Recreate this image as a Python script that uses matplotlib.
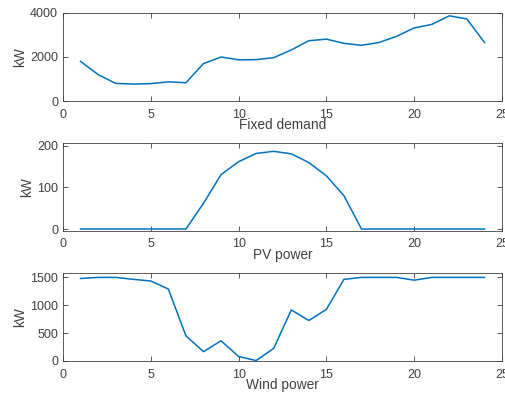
import matplotlib.pyplot as plt
import numpy as np

hours = np.arange(1, 25)

fixed_demand = [1800, 1200, 800, 770, 790, 870, 830, 1700, 2000, 1870,
                1880, 1970, 2320, 2740, 2810, 2620, 2530, 2660, 2940, 3320,
                3480, 3870, 3730, 2660]

pv_power = [0, 0, 0, 0, 0, 0, 0, 62, 131, 162, 182, 187, 181, 160, 128, 80,
            0, 0, 0, 0, 0, 0, 0, 0]

wind_power = [1480, 1500, 1500, 1465, 1435, 1290, 450, 165, 360, 78, 5, 225,
              915, 725, 925, 1465, 1500, 1500, 1500, 1450, 1500, 1500, 1500, 1500]

titles = ['Fixed demand', 'PV power', 'Wind power']
ylims = [(0, 4000), (-4, 206), (-3, 1585)]
yticks = [[0, 2000, 4000], [0, 100, 200], [0, 500, 1000, 1500]]

plt.rcParams['font.family'] = ['Liberation Sans', 'DejaVu Sans']
plt.rcParams['font.size'] = 9

line_col = '#0072BD'
txt_col = '#404040'

fig = plt.figure(figsize=(5.06, 3.93), dpi=100)
positions = [[0.1245, 0.743, 0.8676, 0.224],
             [0.1245, 0.413, 0.8676, 0.222],
             [0.1245, 0.0814, 0.8676, 0.2248]]

for pos, data, title, yl, yt in zip(positions, [fixed_demand, pv_power, wind_power],
                                     titles, ylims, yticks):
    ax = fig.add_axes(pos)
    ax.plot(hours, data, color=line_col, linewidth=1.1)
    ax.set_xlim(0, 25)
    ax.set_ylim(*yl)
    ax.set_xticks([0, 5, 10, 15, 20, 25])
    ax.set_yticks(yt)
    ax.set_ylabel('kW', color=txt_col, labelpad=2.5, fontsize=9.9)
    ax.set_xlabel(title, color=txt_col, labelpad=-2, fontsize=9.9)
    ax.tick_params(direction='in', top=True, right=True, length=3.6,
                   width=0.6, colors=txt_col, labelcolor=txt_col)
    ax.tick_params(axis='x', pad=5.5)
    ax.tick_params(axis='y', pad=3.5)
    for s in ax.spines.values():
        s.set_color(txt_col)
        s.set_linewidth(0.6)

fig.savefig('out.png', dpi=100, facecolor='white')
